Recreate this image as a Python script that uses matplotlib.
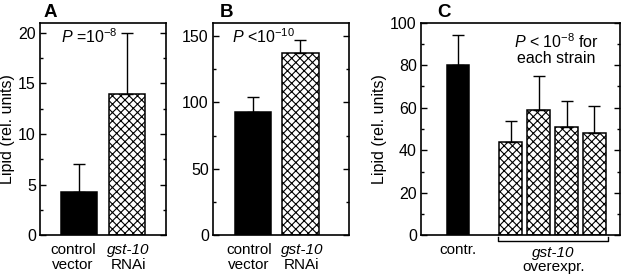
import matplotlib
matplotlib.use("Agg")
import matplotlib.pyplot as plt
from matplotlib.ticker import MultipleLocator
import matplotlib.transforms as mtransforms

plt.rcParams['font.family'] = ['Liberation Sans', 'DejaVu Sans']
plt.rcParams['mathtext.fontset'] = 'custom'
plt.rcParams['mathtext.rm'] = 'Liberation Sans'
plt.rcParams['mathtext.it'] = 'Liberation Sans:italic'
plt.rcParams['hatch.linewidth'] = 0.8

# panel A
a_vals = [4.3, 14.0]
a_errs = [2.7, 6.0]
# panel B
b_vals = [93, 137]
b_errs = [11, 10]
# panel C
c_vals = [80, 44, 59, 51, 48]
c_errs = [14, 10, 16, 12, 13]

FS = 11.5
LFS = 11

fig = plt.figure(figsize=(6.24, 2.77), dpi=100)
axA = fig.add_axes([0.0641, 0.1505, 0.2019, 0.7675])
axB = fig.add_axes([0.3413, 0.1505, 0.2180, 0.7675])
axC = fig.add_axes([0.6747, 0.1505, 0.3189, 0.7675])


def style(ax, major, minor, top):
    ax.set_ylim(0, top)
    ax.yaxis.set_major_locator(MultipleLocator(major))
    ax.yaxis.set_minor_locator(MultipleLocator(minor))
    ax.tick_params(axis='y', which='both', direction='in', left=True, right=True,
                   labelsize=FS, pad=3)
    ax.tick_params(axis='y', which='major', length=4, width=1)
    ax.tick_params(axis='y', which='minor', length=2.5, width=1)
    ax.set_xticks([])
    for s in ax.spines.values():
        s.set_linewidth(1.2)


def bars(ax, xs, vals, errs, w, colors, hatches):
    for x, v, e, c, h in zip(xs, vals, errs, colors, hatches):
        ax.bar(x, v, width=w, color=c, edgecolor='black', linewidth=1.1, hatch=h, zorder=2)
        ax.errorbar(x, v, yerr=[[0], [e]], fmt='none', ecolor='black',
                    elinewidth=1, capsize=4, capthick=1, zorder=3)


def xlabel2(ax, x, top, bottom, italic_top=False):
    tr = mtransforms.blended_transform_factory(ax.transData, ax.transAxes)
    ax.text(x, -0.035, top, transform=tr, ha='center', va='top', fontsize=LFS,
            style='italic' if italic_top else 'normal')
    if bottom:
        ax.text(x, -0.105, bottom, transform=tr, ha='center', va='top', fontsize=LFS)


# A
bars(axA, [0, 1], a_vals, a_errs, 0.74, ['black', 'white'], ['', 'xxxx'])
axA.set_xlim(-0.8, 1.8)
style(axA, 5, 2.5, 21)
axA.set_ylabel('Lipid (rel. units)', fontsize=FS, labelpad=2)
axA.text(0.17, 0.935, r'$P$ =10$^{-8}$', transform=axA.transAxes, fontsize=FS, va='center')
xlabel2(axA, -0.12, 'control', 'vector')
xlabel2(axA, 1.03, 'gst-10', 'RNAi', italic_top=True)
fig.text(0.070, 0.955, 'A', fontsize=13.5, fontweight='bold', va='center')

# B
bars(axB, [0, 1], b_vals, b_errs, 0.76, ['black', 'white'], ['', 'xxxx'])
axB.set_xlim(-0.84, 2.02)
style(axB, 50, 25, 160)
axB.text(0.14, 0.935, r'$P$ <10$^{-10}$', transform=axB.transAxes, fontsize=FS, va='center')
xlabel2(axB, -0.08, 'control', 'vector')
xlabel2(axB, 1.03, 'gst-10', 'RNAi', italic_top=True)
fig.text(0.352, 0.955, 'B', fontsize=13.5, fontweight='bold', va='center')

# C
cx = [0, 1.9, 2.9, 3.9, 4.9]
bars(axC, cx, c_vals, c_errs, 0.82, ['black'] + ['white'] * 4, [''] + ['xxxx'] * 4)
axC.set_xlim(-1.33, 5.82)
style(axC, 20, 10, 100)
axC.set_ylabel('Lipid (rel. units)', fontsize=FS, labelpad=2)
axC.text(0.68, 0.875, r'$P$ < 10$^{-8}$ for' + '\neach strain', transform=axC.transAxes,
         fontsize=FS, ha='center', va='center', linespacing=1.0)
xlabel2(axC, 0, 'contr.', '')
tr = mtransforms.blended_transform_factory(axC.transData, axC.transAxes)
bl, br = cx[1] - 0.45, cx[-1] + 0.5
axC.plot([bl, bl, br, br], [-0.01, -0.025, -0.025, -0.01], color='black', lw=1,
         transform=tr, clip_on=False)
axC.text((bl + br) / 2, -0.05, 'gst-10', transform=tr, ha='center', va='top',
         fontsize=LFS, style='italic')
axC.text((bl + br) / 2, -0.115, 'overexpr.', transform=tr, ha='center', va='top', fontsize=LFS)
fig.text(0.700, 0.955, 'C', fontsize=13.5, fontweight='bold', va='center')

fig.savefig('out.png', dpi=100)
